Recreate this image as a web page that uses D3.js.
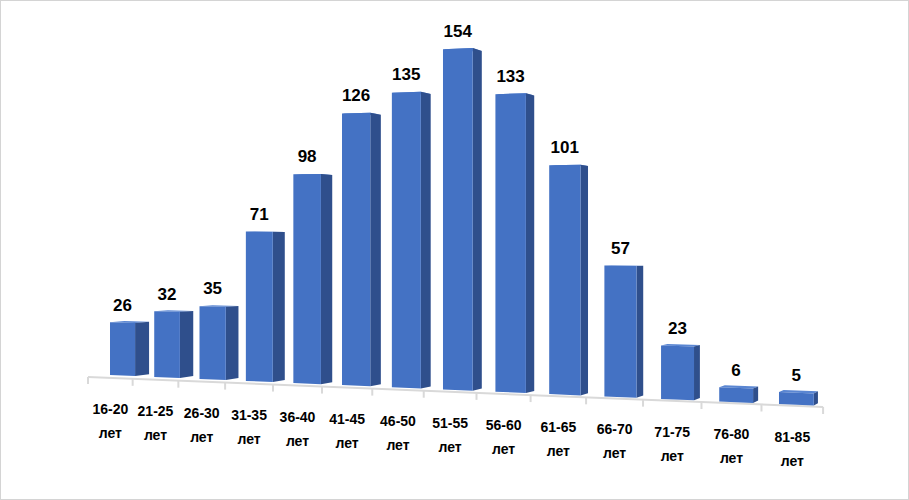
<!DOCTYPE html>
<html>
<head>
<meta charset="utf-8">
<script src="https://cdn.jsdelivr.net/npm/d3@7"></script>
<style>
  body { margin: 0; background: #fff; }
  svg { display: block; }
  text { font-family: "Liberation Sans", Arial, sans-serif; font-weight: bold; fill: #000; }
</style>
</head>
<body>
<svg id="chart" width="909" height="500"></svg>
<script>
// data
const categories = ['16-20', '21-25', '26-30', '31-35', '36-40', '41-45', '46-50',
                    '51-55', '56-60', '61-65', '66-70', '71-75', '76-80', '81-85'];
const counts = [26, 32, 35, 71, 98, 126, 135, 154, 133, 101, 57, 23, 6, 5];
const unitLabel = 'лет';

const svg = d3.select('#chart');
const width = +svg.attr('width');
const height = +svg.attr('height');

svg.append('rect')
    .attr('x', 0.5).attr('y', 0.5)
    .attr('width', width - 1).attr('height', height - 1)
    .attr('fill', '#fff')
    .attr('stroke', '#d4d4d4')
    .attr('stroke-width', 1);

const n = categories.length;
const idx = d3.scalePoint().domain(categories).range([0, n - 1]);
const barWidth = 0.57;   // in category units

// perspective of the bar plane: x = num(u) / w(u)
const xNum = d3.scaleLinear().domain([0, n - 1]).range([110, 110 + 42.44 * (n - 1)]);
const depthW = d3.scaleLinear().domain([0, n - 1]).range([1, 1 - 0.01158 * (n - 1)]);
const xAt = u => xNum(u) / depthW(u);
const baseY = d3.scaleLinear().domain([110, 779]).range([375, 404]);
const yVal = d3.scaleLinear().domain([0, 154]).range([0, 2.03 * 154]);
const pt = (u, v) => {
    const x = xAt(u);
    return [x, baseY(x) - yVal(v) / depthW(u)];
};

// depth direction towards a vanishing point
const vp = [1100, 245];
const depthT = 0.0145;
const back = p => [p[0] + depthT * (vp[0] - p[0]), p[1] + depthT * (vp[1] - p[1])];

// floor edge (axis) perspective
const tNum = d3.scaleLinear().domain([0, n]).range([88, 88 + 43.14 * n]);
const tW = d3.scaleLinear().domain([0, n]).range([1, 1 - 0.01138 * n]);
const tickX = j => tNum(j) / tW(j);
const axisY = d3.scaleLinear().domain([88, 823]).range([377, 407]);

const poly = pts => 'M' + pts.map(p => p.join(',')).join('L') + 'Z';

// axis line and ticks
const axis = svg.append('g').attr('class', 'axis');
axis.append('line')
    .attr('x1', tickX(0)).attr('y1', axisY(tickX(0)))
    .attr('x2', tickX(n)).attr('y2', axisY(tickX(n)))
    .attr('stroke', '#d9d9d9')
    .attr('stroke-width', 2);

axis.selectAll('line.tick')
    .data(d3.range(n + 1))
    .enter()
    .append('line')
    .attr('class', 'tick')
    .attr('x1', j => tickX(j))
    .attr('y1', j => axisY(tickX(j)))
    .attr('x2', j => tickX(j))
    .attr('y2', j => axisY(tickX(j)) + 7)
    .attr('stroke', '#d9d9d9')
    .attr('stroke-width', 2);

// bars
const bars = svg.selectAll('g.bar')
    .data(categories.map((c, i) => ({ c, v: counts[i] })))
    .enter()
    .append('g')
    .attr('class', 'bar');

bars.each(function (d) {
    const g = d3.select(this);
    const u0 = idx(d.c);
    const u1 = u0 + barWidth;
    const tl = pt(u0, d.v), tr = pt(u1, d.v);
    const bl = pt(u0, 0), br = pt(u1, 0);

    g.append('path')
        .attr('d', poly([tl, tr, back(tr), back(tl)]))
        .attr('fill', '#5a86d2');
    g.append('path')
        .attr('d', poly([tr, br, back(br), back(tr)]))
        .attr('fill', '#2f4f8c');
    g.append('path')
        .attr('d', poly([tl, tr, br, bl]))
        .attr('fill', '#4472c4');

    const top = pt(u0 + barWidth / 2, d.v);
    g.append('text')
        .attr('x', top[0])
        .attr('y', top[1] - 12)
        .attr('text-anchor', 'middle')
        .attr('font-size', 17)
        .text(d.v);
});

// category labels
const labels = svg.selectAll('g.label')
    .data(categories)
    .enter()
    .append('g')
    .attr('class', 'label');

labels.each(function (c, j) {
    const cx = (tickX(j) + tickX(j + 1)) / 2;
    const y = axisY(cx) + 36;
    const g = d3.select(this);
    g.append('text')
        .attr('x', cx).attr('y', y)
        .attr('text-anchor', 'middle')
        .attr('font-size', 14)
        .text(c);
    g.append('text')
        .attr('x', cx).attr('y', y + 24)
        .attr('text-anchor', 'middle')
        .attr('font-size', 14)
        .text(unitLabel);
});
</script>
</body>
</html>
